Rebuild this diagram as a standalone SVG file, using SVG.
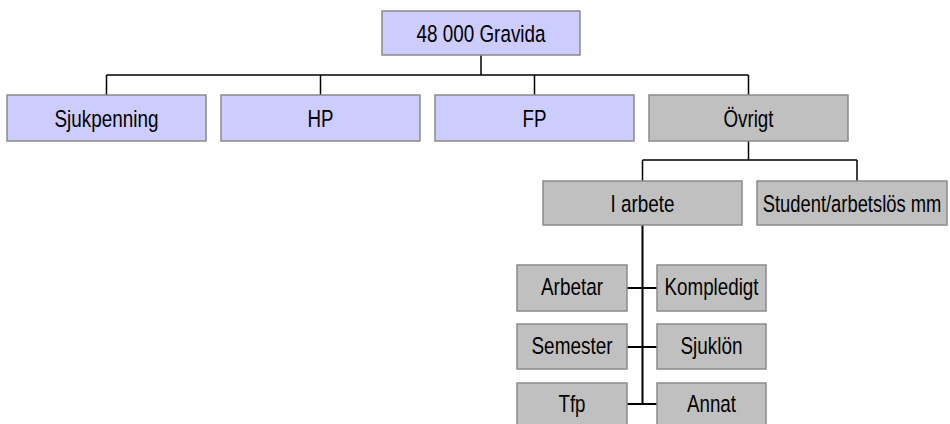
<svg xmlns="http://www.w3.org/2000/svg" width="950" height="424" viewBox="0 0 950 424">
<style>
.b{fill:#CCCCFF;stroke:#8a8a8a;stroke-width:1.5}
.g{fill:#C0C0C0;stroke:#8a8a8a;stroke-width:1.5}
text{font-family:"Liberation Sans",Arial,sans-serif;font-size:24.5px;fill:#000;text-anchor:middle}
.c1{stroke:#000;stroke-width:1.5;fill:none}
.c2{stroke:#000;stroke-width:2;fill:none}
</style>
<rect width="950" height="424" fill="#fff"/>
<g id="connectors">
<path class="c1" d="M481 55V75M106.5 75H748.5M106.5 75V95M320.5 75V95M534.5 75V95M748.5 75V95"/>
<path class="c1" d="M748.5 141V160M642.5 160H857M642.5 160V181M857 160V181"/>
<path class="c2" d="M642.5 225V404M627 288H657M627 347H657M627 404H657"/>
</g>
<g id="gravida"><rect class="b" x="382" y="11" width="198" height="44"/><text x="481" y="42" textLength="129" lengthAdjust="spacingAndGlyphs">48 000 Gravida</text></g>
<g id="sjukpenning"><rect class="b" x="7" y="95" width="199" height="46"/><text x="106.5" y="127" textLength="104" lengthAdjust="spacingAndGlyphs">Sjukpenning</text></g>
<g id="hp"><rect class="b" x="221" y="95" width="199" height="46"/><text x="320.5" y="127" textLength="26" lengthAdjust="spacingAndGlyphs">HP</text></g>
<g id="fp"><rect class="b" x="435" y="95" width="199" height="46"/><text x="534.5" y="127" textLength="24" lengthAdjust="spacingAndGlyphs">FP</text></g>
<g id="ovrigt"><rect class="g" x="649" y="95" width="199" height="46"/><text x="748.5" y="127" textLength="50" lengthAdjust="spacingAndGlyphs">Övrigt</text></g>
<g id="iarbete"><rect class="g" x="543" y="181" width="199" height="44"/><text x="642.5" y="212" textLength="64" lengthAdjust="spacingAndGlyphs">I arbete</text></g>
<g id="student"><rect class="g" x="757" y="181" width="190" height="44"/><text transform="translate(852 212) scale(0.75 1)" x="0" y="0">Student/arbetslös mm</text></g>
<g id="arbetar"><rect class="g" x="517" y="265" width="110" height="46"/><text x="572" y="295" textLength="62" lengthAdjust="spacingAndGlyphs">Arbetar</text></g>
<g id="kompledigt"><rect class="g" x="657" y="265" width="109" height="46"/><text x="711.5" y="295" textLength="94" lengthAdjust="spacingAndGlyphs">Kompledigt</text></g>
<g id="semester"><rect class="g" x="517" y="324" width="110" height="45"/><text x="572" y="354" textLength="81" lengthAdjust="spacingAndGlyphs">Semester</text></g>
<g id="sjuklon"><rect class="g" x="657" y="324" width="109" height="45"/><text x="711.5" y="354" textLength="62" lengthAdjust="spacingAndGlyphs">Sjuklön</text></g>
<g id="tfp"><rect class="g" x="517" y="383" width="110" height="46"/><text x="572" y="412" textLength="27" lengthAdjust="spacingAndGlyphs">Tfp</text></g>
<g id="annat"><rect class="g" x="657" y="383" width="109" height="46"/><text x="711.5" y="412" textLength="49" lengthAdjust="spacingAndGlyphs">Annat</text></g>
</svg>
